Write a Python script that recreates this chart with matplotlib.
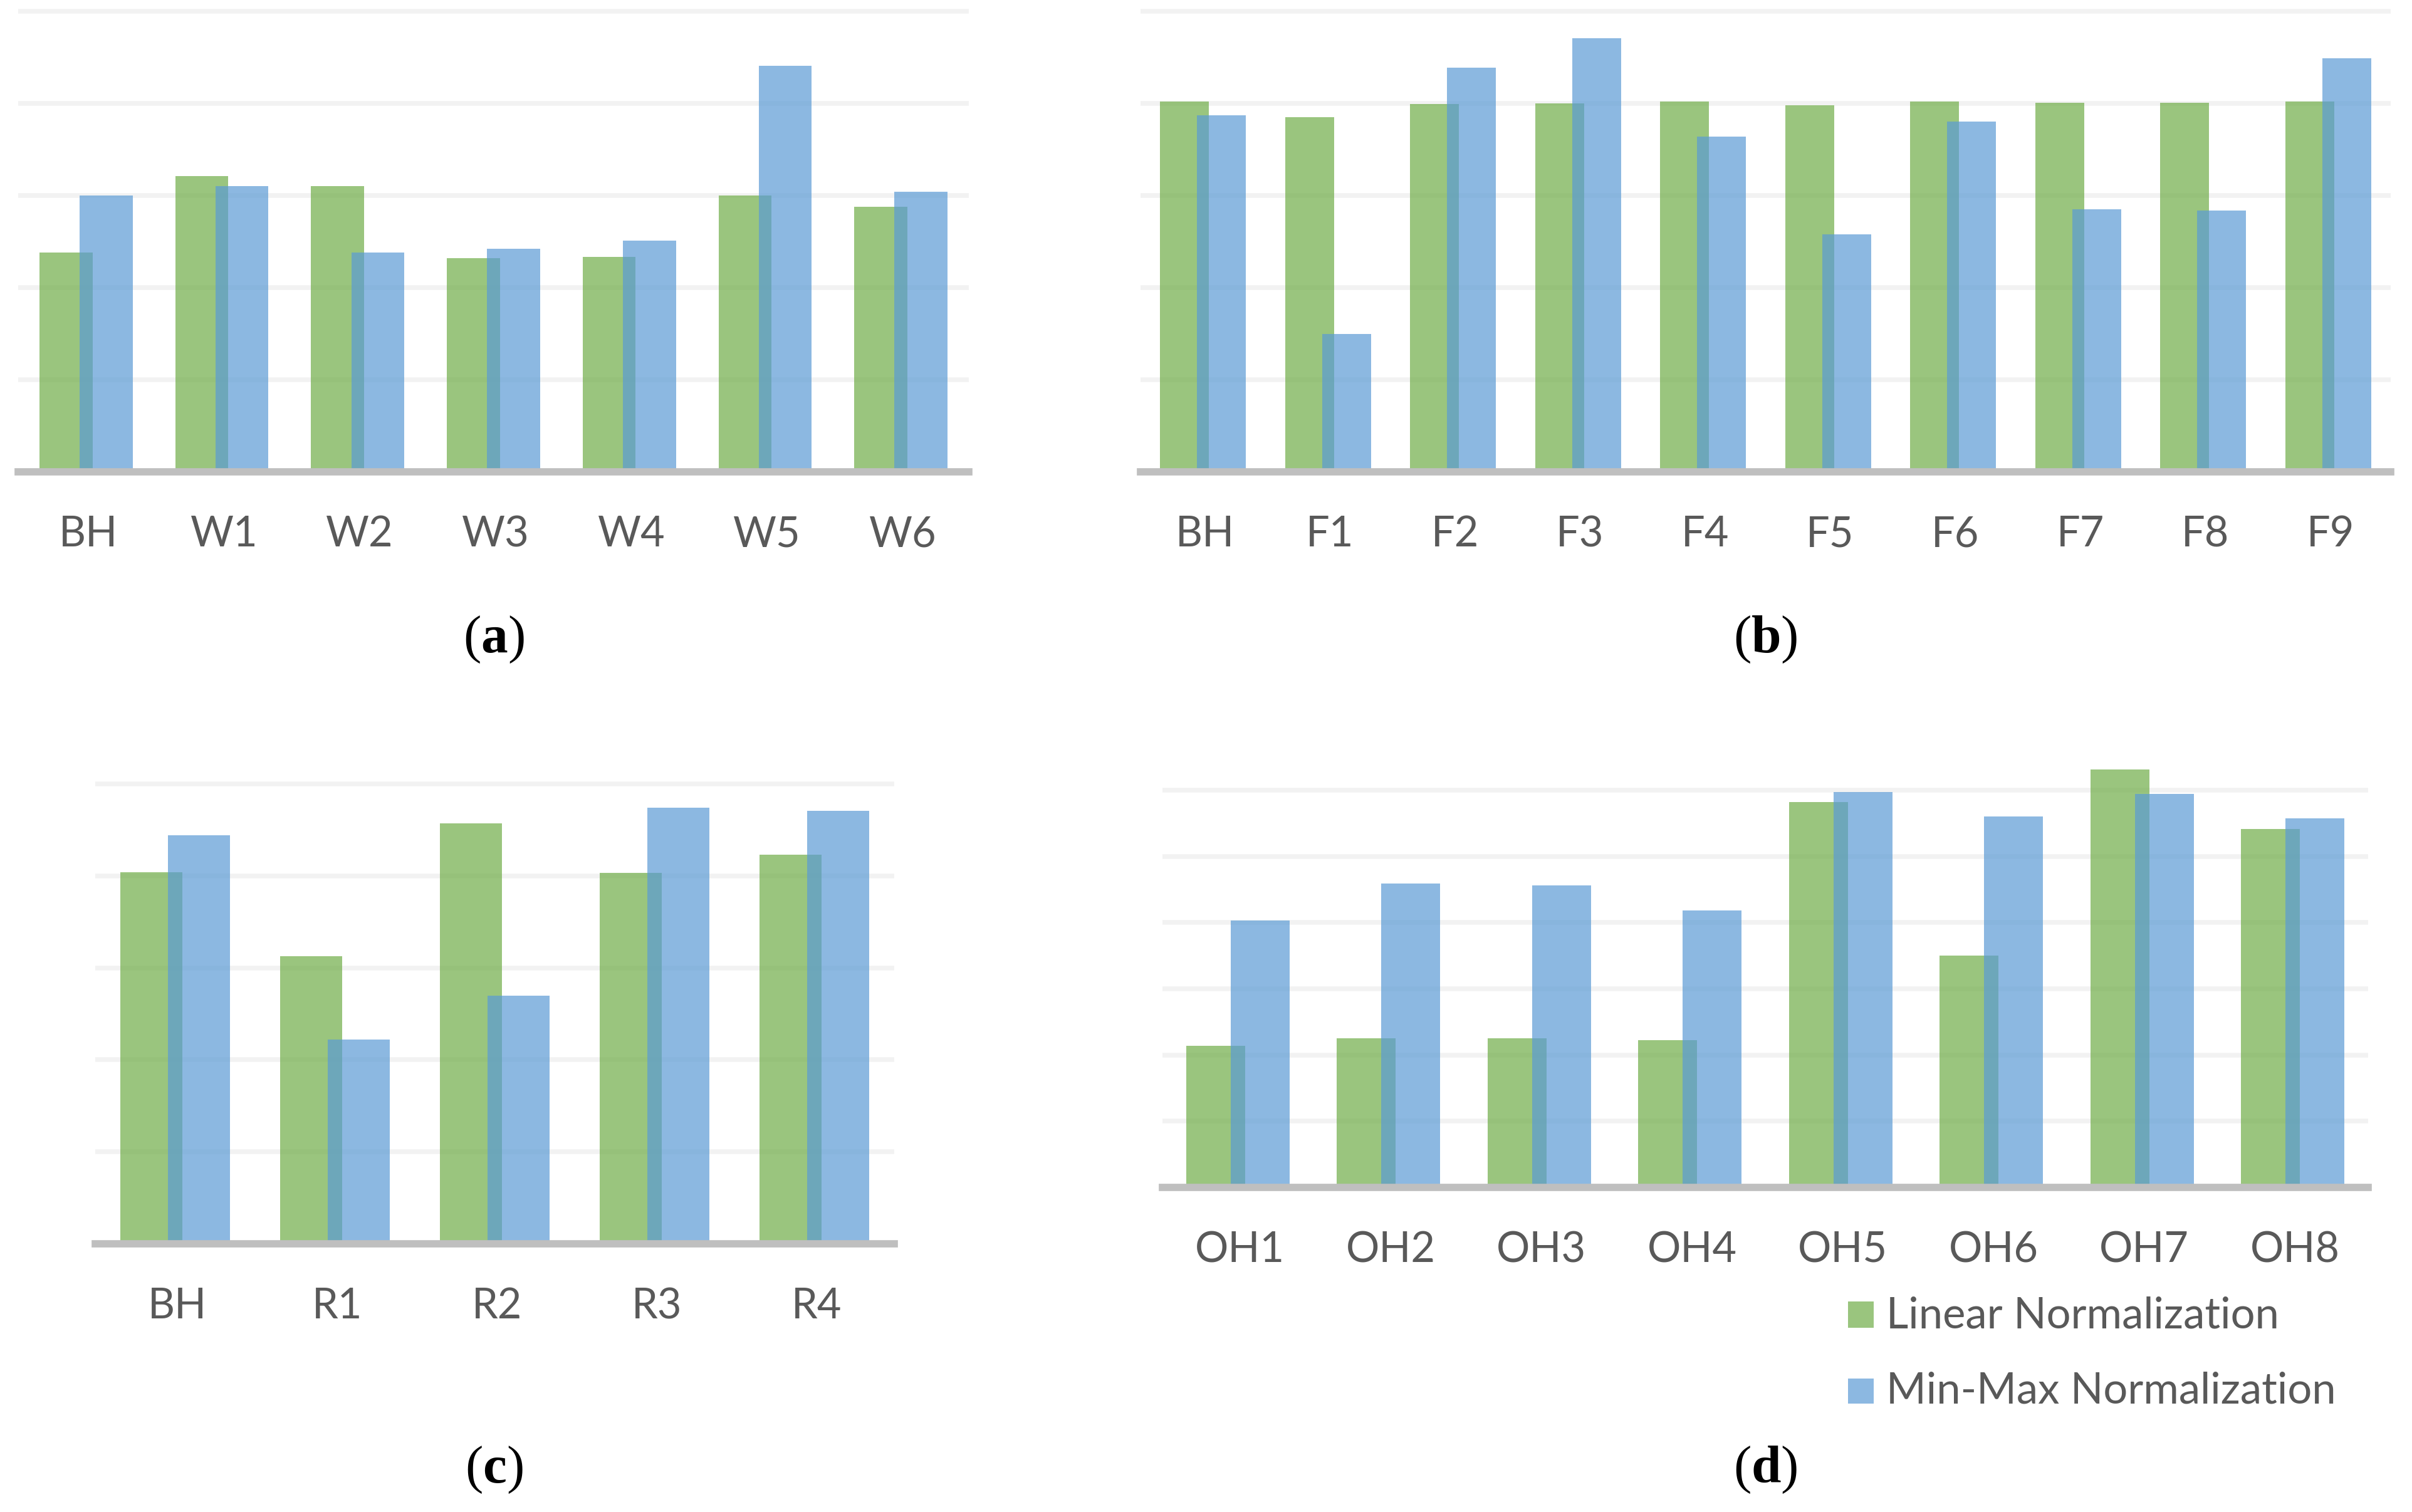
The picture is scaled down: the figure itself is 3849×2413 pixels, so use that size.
import matplotlib
matplotlib.use("Agg")
import matplotlib.pyplot as plt
import matplotlib.transforms as mtransforms
import numpy as np

W, H = 3849, 2413
DPI = 300

# ---------------- data ----------------
cats_a = ["BH", "W1", "W2", "W3", "W4", "W5", "W6"]
lin_a = [2.38, 3.21, 3.10, 2.32, 2.33, 3.00, 2.88]
mm_a = [3.00, 3.10, 2.38, 2.42, 2.51, 4.41, 3.04]

cats_b = ["BH", "F1", "F2", "F3", "F4", "F5", "F6", "F7", "F8", "F9"]
lin_b = [4.02, 3.85, 3.99, 4.00, 4.02, 3.98, 4.02, 4.01, 4.01, 4.02]
mm_b = [3.87, 1.50, 4.39, 4.71, 3.64, 2.58, 3.80, 2.85, 2.84, 4.49]

cats_c = ["BH", "R1", "R2", "R3", "R4"]
lin_c = [4.04, 3.13, 4.57, 4.03, 4.23]
mm_c = [4.44, 2.22, 2.70, 4.74, 4.71]

cats_d = ["OH1", "OH2", "OH3", "OH4", "OH5", "OH6", "OH7", "OH8"]
lin_d = [2.14, 2.25, 2.25, 2.22, 5.82, 3.50, 6.31, 5.41]
mm_d = [4.03, 4.59, 4.56, 4.18, 5.97, 5.60, 5.94, 5.57]

series_names = ["Linear Normalization", "Min-Max Normalization"]
captions = ["a", "b", "c", "d"]

# ---------------- style ----------------
GREEN = "#70AD47"
BLUE = "#5B9BD5"
ALPHA = 0.7
GRID = "#F2F2F2"
BASE = "#BFBFBF"
TXT = "#595959"
FONT = ["Lato", "DejaVu Sans"]
FS = 16

plt.rcParams["mathtext.fontset"] = "custom"
plt.rcParams["mathtext.rm"] = "Liberation Serif"
plt.rcParams["mathtext.bf"] = "Liberation Serif:bold"

fig = plt.figure(figsize=(W / DPI, H / DPI), dpi=DPI)
fig.patch.set_facecolor("white")


def make_axes(x0, x1, ybase, ytopgrid, ngrid, ymax):
    ppu = (ybase - ytopgrid) / ngrid
    ytop = ybase - ymax * ppu
    ax = fig.add_axes([x0 / W, 1 - ybase / H, (x1 - x0) / W, (ybase - ytop) / H])
    ax.set_ylim(0, ymax)
    ax.set_yticks(np.arange(1, ngrid + 1))
    return ax


def draw_panel(ax, cats, lin, mm):
    n = len(cats)
    x = np.arange(n)
    ax.set_xlim(-0.5, n - 0.5)
    for g in ax.get_yticks():
        ax.axhline(g, color=GRID, lw=1.8, zorder=0)
    ax.bar(x - 0.148, lin, width=0.39, color=GREEN, alpha=ALPHA, lw=0, zorder=2)
    ax.bar(x + 0.148, mm, width=0.39, color=BLUE, alpha=ALPHA, lw=0, zorder=3)
    ax.axhline(0, color=BASE, lw=2.8, zorder=5, clip_on=False)
    for s in ax.spines.values():
        s.set_visible(False)
    ax.set_xticks([])
    ax.set_yticks([])
    trans = mtransforms.offset_copy(ax.get_xaxis_transform(), fig=fig,
                                    x=0.8, y=-28.6, units="points")
    for xi, c in zip(x, cats):
        ax.text(xi, 0, c, transform=trans, ha="center", va="baseline",
                fontsize=FS, color=TXT, family=FONT)


ax_a = make_axes(29, 1546, 753, 18, 5, 5.1)
draw_panel(ax_a, cats_a, lin_a, mm_a)
ax_b = make_axes(1820, 3815, 753, 18, 5, 5.1)
draw_panel(ax_b, cats_b, lin_b, mm_b)
ax_c = make_axes(152, 1427, 1985, 1251, 5, 5.1)
draw_panel(ax_c, cats_c, lin_c, mm_c)
ax_d = make_axes(1855, 3779, 1895, 1261, 6, 6.4)
draw_panel(ax_d, cats_d, lin_d, mm_d)

# captions
cap_pos = [(788, 1019), (2817, 1019), (788, 2345), (2817, 2345)]
for (cx, cy), lab in zip(cap_pos, captions):
    fig.text(cx / W, 1 - cy / H, r"$\mathrm{(}\mathbf{%s}\mathrm{)}$" % lab,
             ha="center", va="center", fontsize=20.5, color="black")

# legend (manual, in panel d area)
leg_items = [(series_names[0], GREEN, 2077, 2119, 2120),
             (series_names[1], BLUE, 2200, 2240, 2240)]
for name, col, ytop, ybot, ybl in leg_items:
    fig.patches.append(plt.Rectangle((2949 / W, 1 - ybot / H), 41 / W, (ybot - ytop) / H,
                                     transform=fig.transFigure, facecolor=col,
                                     alpha=ALPHA, lw=0))
    fig.text(3010 / W, 1 - ybl / H, name, ha="left", va="baseline",
             fontsize=16.5, color=TXT, family=FONT)

fig.savefig("out.png", dpi=DPI, facecolor="white")
